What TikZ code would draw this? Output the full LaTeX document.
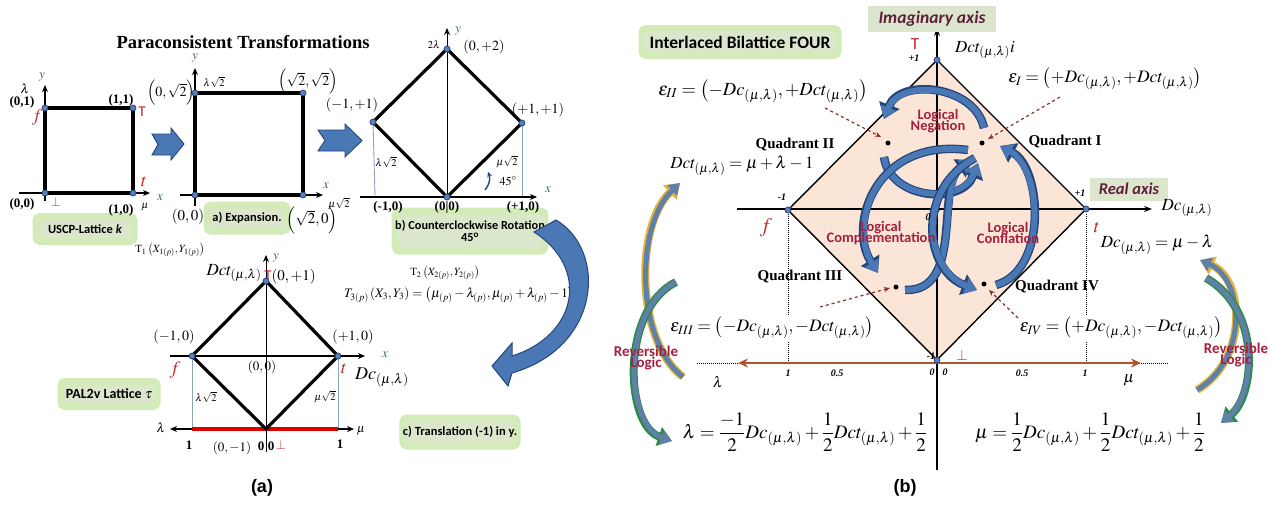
\documentclass[tikz,border=0pt]{standalone}
\usepackage{mathptmx}
\usepackage[no-math]{fontspec}
\setmainfont{Liberation Serif}
\newfontfamily\sansb{Carlito}
\newfontfamily\dvs{Liberation Sans}
\usetikzlibrary{arrows.meta}
\newcommand\fsz[1]{\fontsize{#1}{#1}\selectfont}
\definecolor{boxfill}{HTML}{DCE6CC}
\definecolor{glowc}{HTML}{D3EBB8}
\definecolor{redl}{HTML}{C0282D}
\definecolor{axgreen}{HTML}{2E6B4F}
\definecolor{bluef}{HTML}{4A78B5}
\definecolor{blued}{HTML}{24467A}
\definecolor{vblue}{HTML}{5B7FBF}
\definecolor{peach}{HTML}{FBE5D6}
\definecolor{brownax}{HTML}{B0522A}
\definecolor{maroon}{HTML}{A3203F}
\definecolor{axtxt}{HTML}{5E1F3C}
\definecolor{dashred}{HTML}{8B2E2E}
\definecolor{yel}{HTML}{E2B43A}
\definecolor{grn}{HTML}{2E8B47}
\definecolor{grayblue}{HTML}{5F80A8}
\definecolor{thinc}{HTML}{8FA3BF}
\tikzset{
 edge/.style={line width=3.2pt, line join=miter},
 axis/.style={line width=1.3pt, -{Stealth[length=7pt,width=6pt]}},
 vtx/.style={circle, fill=vblue, draw=blued, line width=0.8pt, inner sep=0pt, minimum size=6pt},
 glowbox/.style={draw=glowc, line width=7pt, fill=boxfill, rounded corners=4pt, inner sep=0pt, font=\sansb\bfseries\fsz{12.5}, align=center},
 bl/.style={font=\bfseries\fsz{13}},
 ml/.style={font=\fsz{14}},
 sm/.style={font=\fsz{10.5}},
 rd/.style={text=redl},
 gl/.style={text=axgreen, font=\bfseries\itshape\fsz{13}},
 eq/.style={font=\fsz{17.5}},
 quad/.style={font=\bfseries\fsz{15}},
 lg/.style={text=maroon, font=\sansb\bfseries\fsz{14.5}, align=center},
 tk/.style={font=\bfseries\itshape\fsz{10}},
 dsh/.style={dashed, dashred, line width=1.2pt, -{Stealth[length=6pt,width=5pt]}},
 arcout/.style={draw=blued, line width=8.5pt, -{Triangle[length=15pt,width=21pt]}},
 arcin/.style={draw=bluef, line width=6pt, -{Triangle[length=12pt,width=16pt]}},
 yout/.style={draw=#1, line width=8pt, -{Triangle[length=14pt,width=19pt]}},
 yin/.style={draw=grayblue, line width=5pt, -{Triangle[length=11pt,width=14pt]}},
 axb/.style={text=axtxt, font=\sansb\bfseries\itshape\fsz{17.5}},
}
\newcommand\barc[1]{\draw[arcout] #1; \draw[arcin] #1;}
\newcommand\rarc[2]{\draw[yout=#1] #2; \draw[yin] #2;}
\begin{document}
\begin{tikzpicture}[x=1pt,y=-1pt]
\useasboundingbox (0,0) rectangle (1271,504);
\fill[white] (0,0) rectangle (1271,504);

%================ PANEL (a) ================
\node[font=\bfseries\fsz{18.5}] (title) at (243,42) {Paraconsistent Transformations};

% label boxes (drawn first, below the labels)
\node[glowbox, minimum width=98pt, minimum height=25pt] (uscp) at (85,229) {USCP-Lattice \textit{k}};
\node[glowbox, minimum width=80pt, minimum height=26pt] (expb) at (247,218) {a) Expansion.};
\node[glowbox, minimum width=148pt, minimum height=40pt, font=\sansb\bfseries\fsz{12.3}] (rotb) at (470,231) {b) Counterclockwise Rotation\\45\textsuperscript{o}};
\node[glowbox, minimum width=96pt, minimum height=25pt, font=\sansb\bfseries\fsz{14}] (pal) at (109,394) {PAL2v Lattice $\tau$};
\node[glowbox, minimum width=114pt, minimum height=28pt] (trb) at (460,432) {c) Translation (-1) in y.};

% ---- step 1: USCP lattice
\coordinate (p1a) at (45,193); \coordinate (p1b) at (133,193);
\coordinate (p1c) at (133,108); \coordinate (p1d) at (45,108);
\coordinate (p1xs) at (19,193); \coordinate (p1xe) at (150,193);
\coordinate (p1ys) at (45,201); \coordinate (p1ye) at (45,85);
\draw[axis] (p1xs) -- (p1xe);
\draw[axis] (p1ys) -- (p1ye);
\draw[edge] (p1a) -- (p1b) -- (p1c) -- (p1d) -- cycle;
\foreach \p in {p1a,p1b,p1c,p1d} \node[vtx] (v\p) at (\p) {};
\node[bl] (l01) at (22,102) {(0,1)};
\node[bl] (l11) at (121,100) {(1,1)};
\node[bl] (l00) at (22,204) {(0,0)};
\node[bl] (l10) at (121,210) {(1,0)};
\node[rd, font=\itshape\fsz{18}] (f1) at (37,117) {$f$};
\node[rd, font=\sansb\fsz{15}] (T1) at (142,112) {T};
\node[rd, font=\itshape\bfseries\fsz{18}] (t1) at (144,182) {$t$};
\node[rd, font=\fsz{13}] (b1) at (56,202) {$\bot$};
\node[sm] (mu1) at (145,207) {$\mu$};
\node[font=\fsz{13}] (la1) at (25,89) {$\lambda$};
\node[gl] (y1) at (42,77) {$y$};
\node[gl] (x1) at (160,198) {$x$};

% arrows between steps
\fill[bluef, draw=blued, line width=0.9pt] (152,134) -- (171,134) -- (171,128) -- (184,144) -- (171,160) -- (171,155) -- (152,155) -- (158,144.5) -- cycle;
\fill[bluef, draw=blued, line width=0.9pt] (318,130) -- (345,130) -- (345,124) -- (362,140.5) -- (345,157) -- (345,151) -- (318,151) -- (325,140.5) -- cycle;

% ---- step 2: expansion
\coordinate (p2a) at (195,195); \coordinate (p2b) at (303,195);
\coordinate (p2c) at (303,93); \coordinate (p2d) at (195,93);
\coordinate (p2xs) at (180,195); \coordinate (p2xe) at (323,195);
\coordinate (p2ys) at (195,206); \coordinate (p2ye) at (195,68);
\draw[axis] (p2xs) -- (p2xe);
\draw[axis] (p2ys) -- (p2ye);
\draw[edge] (p2a) -- (p2b) -- (p2c) -- (p2d) -- cycle;
\foreach \p in {p2a,p2b,p2c,p2d} \node[vtx] (v\p) at (\p) {};
\node[gl] (y2) at (195,58) {$y$};
\node[ml] (l2a) at (171,93) {$\left(0,\sqrt{2}\right)$};
\node[sm] (l2b) at (214,82) {$\lambda\sqrt{2}$};
\node[ml] (l2c) at (308,82) {$\left(\sqrt{2},\sqrt{2}\right)$};
\node[gl] (x2) at (326,186) {$x$};
\node[sm] (l2d) at (339,204) {$\mu\sqrt{2}$};
\node[ml, font=\fsz{15}] (l2e) at (188,217) {$\left(0,0\right)$};
\node[ml, font=\fsz{15}] (l2f) at (312,220) {$\left(\sqrt{2},0\right)$};

% ---- step 3: rotation
\coordinate (p3a) at (447,197); \coordinate (p3b) at (522,123);
\coordinate (p3c) at (447,49); \coordinate (p3d) at (373,122);
\coordinate (p3xs) at (360,197); \coordinate (p3xe) at (537,197);
\coordinate (p3ys) at (447,197); \coordinate (p3ye) at (447,28);
\coordinate (p3l) at (375,196); \coordinate (p3r) at (522,196);
\draw[thinc, line width=0.9pt] (p3d) -- (p3l);
\draw[thinc, line width=0.9pt] (p3b) -- (p3r);
\draw[axis] (p3xs) -- (p3xe);
\draw[axis, line width=1pt] (p3ys) -- (p3ye);
\draw[edge] (p3a) -- (p3b) -- (p3c) -- (p3d) -- cycle;
\foreach \p in {p3a,p3b,p3c,p3d} \node[vtx] (v\p) at (\p) {};
\node[sm] (l3a) at (434,45) {$2\lambda$};
\node[gl] (y3) at (458,31) {$y$};
\node[ml] (l3b) at (484,47) {$\left(0,+2\right)$};
\node[ml] (l3c) at (352,105) {$\left(-1,+1\right)$};
\node[ml] (l3d) at (538,110) {$\left(+1,+1\right)$};
\node[sm] (l3e) at (386,162) {$\lambda\sqrt{2}$};
\node[sm] (l3f) at (507,162) {$\mu\sqrt{2}$};
\node[font=\fsz{12}] (l3g) at (508,181) {$45^{\circ}$};
\coordinate (r45a) at (485,190); \coordinate (r45b) at (488,172);
\draw[blued, line width=1.4pt, -{Stealth[length=5pt,width=5pt]}] (r45a) to[bend right=30] (r45b);
\node[bl] (l3h) at (388,207) {(-1,0)};
\node[bl] (l3i) at (447,207) {(0|0)};
\node[bl] (l3j) at (523,207) {(+1,0)};
\node[gl] (x3) at (548,190) {$x$};

% transforms
\node[font=\fsz{11}] (tr1) at (170,250) {T$_1\left(X_{1(p)},Y_{1(p)}\right)$};
\node[font=\fsz{11}] (tr2) at (445,273) {T$_2\left(X_{2(p)},Y_{2(p)}\right)$};
\node[font=\fsz{13}] (tr3) at (459,295) {$T_{3(p)}\left(X_3,Y_3\right)=\left(\mu_{(p)}-\lambda_{(p)},\mu_{(p)}+\lambda_{(p)}-1\right)$};

% big curved arrow
\fill[bluef, draw=blued, line width=1pt] (534,232) -- (556,220) .. controls (607,250) and (602,347) .. (512,373) -- (508,386) -- (492,366) -- (512,343) -- (512,356) .. controls (578,335) and (590,268) .. (534,232) -- cycle;

% ---- step 4: translation
\coordinate (p4a) at (266,429); \coordinate (p4b) at (338,356);
\coordinate (p4c) at (266,281); \coordinate (p4d) at (192,356);
\coordinate (p4xs) at (170,356); \coordinate (p4xe) at (365,356);
\coordinate (p4ys) at (266,452); \coordinate (p4ye) at (266,255);
\coordinate (p4l) at (192,429); \coordinate (p4r) at (338,429);
\coordinate (p4bl) at (170,429); \coordinate (p4br) at (354,429);
\draw[thinc, line width=0.9pt] (p4d) -- (p4l);
\draw[thinc, line width=0.9pt] (p4b) -- (p4r);
\draw[axis] (p4xs) -- (p4xe);
\draw[axis, line width=1pt] (p4ys) -- (p4ye);
\draw[line width=1.5pt, {Stealth[length=7pt,width=6pt]}-{Stealth[length=7pt,width=6pt]}] (p4bl) -- (p4br);
\draw[red!85!black, line width=4pt] (p4l) -- (p4r);
\draw[edge] (p4a) -- (p4b) -- (p4c) -- (p4d) -- cycle;
\foreach \p in {p4b,p4c,p4d} \node[vtx] (v\p) at (\p) {};
\node[gl] (y4) at (276,258) {$y$};
\node[font=\fsz{17}] (l4a) at (234,273) {$Dct_{(\mu,\lambda)}$};
\node[font=\fsz{15}] (l4b) at (290,277) {{\color{redl}\sansb T}$\left(0,+1\right)$};
\node[ml] (l4c) at (174,337) {$\left(-1,0\right)$};
\node[ml] (l4d) at (353,337) {$\left(+1,0\right)$};
\node[gl] (x4) at (385,355) {$x$};
\node[rd, font=\fsz{19}] (f4) at (175,370) {$f$};
\node[rd, font=\bfseries\fsz{18}] (t4) at (344,369) {$t$};
\node[font=\fsz{13}] (l4e) at (262,367) {$\left(0,0\right)$};
\node[font=\fsz{18}] (l4f) at (382,377) {$Dc_{(\mu,\lambda)}$};
\node[sm] (l4g) at (206,397) {$\lambda\sqrt{2}$};
\node[sm] (l4h) at (325,397) {$\mu\sqrt{2}$};
\node[font=\fsz{13}] (l4i) at (161,428) {$\lambda$};
\node[font=\fsz{12}] (l4j) at (361,431) {$\mu$};
\node[bl] (l4k) at (189,445) {1};
\node[font=\fsz{13}] (l4l) at (232,448) {$\left(0,-1\right)$};
\node[bl] (l4m) at (261,446) {0};
\node[bl] (l4n) at (271,446) {0};
\node[rd, font=\fsz{13}] (l4o) at (281,445) {$\bot$};
\node[bl] (l4p) at (340,444) {1};

%================ PANEL (b) ================
\coordinate (dT) at (937,60); \coordinate (dR) at (1086,209);
\coordinate (dB) at (937,360); \coordinate (dL) at (788,210);
\fill[peach] (dT) -- (dR) -- (dB) -- (dL) -- cycle;
\coordinate (vax0) at (937,470); \coordinate (vax1) at (937,28);
\coordinate (hax0) at (737,209); \coordinate (hax1) at (1152,209);
\draw[line width=1.2pt, -{Stealth[length=8pt,width=6pt]}] (vax0) -- (vax1);
\draw[line width=1.2pt, -{Stealth[length=8pt,width=6pt]}] (hax0) -- (hax1);
\draw[line width=1.4pt] (dT) -- (dR) -- (dB) -- (dL) -- cycle;
% dotted verticals
\coordinate (dl1) at (788,214); \coordinate (dl2) at (788,362);
\coordinate (dr1) at (1086,214); \coordinate (dr2) at (1086,362);
\draw[densely dotted, line width=1pt] (dl1) -- (dl2);
\draw[densely dotted, line width=1pt] (dr1) -- (dr2);
% brown axis
\coordinate (bx0) at (738,363); \coordinate (bx1) at (1141,363);
\coordinate (bd0) at (697,363); \coordinate (bd1) at (1168,363);
\draw[densely dotted, line width=1pt] (bd0) -- (bx0);
\draw[densely dotted, line width=1pt] (bx1) -- (bd1);
\draw[brownax, line width=2.6pt, {Stealth[length=10pt,width=9pt]}-{Stealth[length=10pt,width=9pt]}] (bx0) -- (bx1);
\foreach \p in {dT,dR,dB,dL} \node[vtx] (v\p) at (\p) {};

% points
\coordinate (qI) at (982,143); \coordinate (qII) at (888,143);
\coordinate (qIII) at (896,287); \coordinate (qIV) at (984,284);
\foreach \p in {qI,qII,qIII,qIV} \node[circle, fill=black, inner sep=0pt, minimum size=5pt] (d\p) at (\p) {};
\node[circle, fill=black, inner sep=0pt, minimum size=5pt] (d0) at (937,210) {};

% blue logical arcs
\barc{(984,128) .. controls (975,85) and (900,78) .. (884,119)}
\barc{(884,157) .. controls (890,200) and (962,205) .. (978,163)}
\barc{(968,150) .. controls (875,138) and (848,225) .. (878,273)}
\barc{(905,290) .. controls (965,292) and (935,185) .. (972,160)}
\barc{(996,285) .. controls (1048,270) and (1042,168) .. (1000,146)}
\barc{(975,158) .. controls (915,190) and (925,270) .. (977,290)}

\node[lg] (neg) at (938,121) {Logical\\[-3pt]Negation};
\node[lg] (comp) at (881,233) {Logical\\[-3pt]Complementation};
\node[lg] (conf) at (1008,233) {Logical\\[-3pt]Conflation};

% axis labels
\node[rd, font=\sansb\fsz{17}] (Tb) at (915,44) {T};
\node[tk] (p1t) at (914,58) {+1};
\node[font=\fsz{17}] (dcti) at (985,50) {$Dct_{(\mu,\lambda)}i$};
\node[tk] (m1l) at (782,197) {-1};
\node[tk] (p1r) at (1080,193) {+1};
\node[tk] (zc) at (928,217) {0};
\node[tk] (m1b) at (931,356) {-1};
\node[rd, font=\fsz{15}] (botb) at (962,355) {$\bot$};
\node[rd, font=\itshape\bfseries\fsz{21}] (fb) at (766,228) {$f$};
\node[rd, font=\itshape\bfseries\fsz{19}] (tb) at (1097,227) {$t$};
\node[fill=boxfill, minimum width=128pt, minimum height=26pt, inner sep=0pt, axb] (imag) at (932,19) {Imaginary axis};
\node[fill=boxfill, minimum width=78pt, minimum height=23pt, inner sep=0pt, axb, font=\sansb\bfseries\itshape\fsz{16.5}] (real) at (1129,189) {Real axis};
\node[font=\fsz{17}] (dcax) at (1187,208) {$Dc_{(\mu,\lambda)}$};
\node[glowbox, minimum width=196pt, minimum height=27pt, font=\sansb\bfseries\fsz{17.5}] (ibf) at (740,42) {Interlaced Bilattice FOUR};

% equations
\node[eq, font=\fsz{18.5}] (e2) at (763,91) {$\varepsilon_{II}=\left(-Dc_{(\mu,\lambda)},+Dct_{(\mu,\lambda)}\right)$};
\node[eq] (e1) at (1105,79) {$\varepsilon_{I}=\left(+Dc_{(\mu,\lambda)},+Dct_{(\mu,\lambda)}\right)$};
\node[eq, fill=white, inner sep=2pt] (e3) at (772,328) {$\varepsilon_{III}=\left(-Dc_{(\mu,\lambda)},-Dct_{(\mu,\lambda)}\right)$};
\node[eq, fill=white, inner sep=2pt] (e4) at (1121,328) {$\varepsilon_{IV}=\left(+Dc_{(\mu,\lambda)},-Dct_{(\mu,\lambda)}\right)$};
\node[eq, font=\fsz{17}] (edct) at (742,166) {$Dct_{(\mu,\lambda)}=\mu+\lambda-1$};
\node[eq, font=\fsz{17}] (edc) at (1157,245) {$Dc_{(\mu,\lambda)}=\mu-\lambda$};
\node[quad] (q2) at (795,145) {Quadrant II};
\node[quad] (q1) at (1065,142) {Quadrant I};
\node[quad] (q3) at (800,277) {Quadrant III};
\node[quad] (q4) at (1057,287) {Quadrant IV};

% dashed pointers
\coordinate (s2) at (825,108); \coordinate (s1) at (1060,97);
\coordinate (s3) at (820,307); \coordinate (s4) at (1018,318);
\draw[dsh] (s2) -- (881,137);
\draw[dsh] (s1) -- (988,139);
\draw[dsh] (s3) -- (890,288);
\draw[dsh] (s4) -- (989,290);

% brown axis ticks
\node[font=\fsz{15}] (lab) at (718,382) {$\lambda$};
\node[tk] (t1l) at (788,373) {1};
\node[tk] (t5l) at (837,373) {0.5};
\node[tk] (t0a) at (932,372) {0};
\node[tk] (t0b) at (945,372) {0};
\node[tk] (t5r) at (1022,373) {0.5};
\node[tk] (t1r) at (1085,373) {1};
\node[font=\fsz{16}] (mub) at (1129,380) {$\mu$};

% reversible logic arcs
\rarc{yel}{(683,377) .. controls (635,340) and (635,225) .. (680,183)}
\rarc{grn}{(676,282) .. controls (620,310) and (625,425) .. (672,441)}
\rarc{yel}{(1197,390) .. controls (1248,360) and (1245,280) .. (1200,260)}
\rarc{grn}{(1206,278) .. controls (1262,310) and (1255,395) .. (1221,423)}
\node[lg, font=\sansb\bfseries\fsz{15}] (rl1) at (646,358) {Reversible\\[-4pt]Logic};
\node[lg, font=\sansb\bfseries\fsz{15}] (rl2) at (1236,355) {Reversible\\[-4pt]Logic};

% bottom equations
\node[font=\fsz{19}] (elam) at (805,432) {$\displaystyle\lambda=\frac{-1}{2}Dc_{(\mu,\lambda)}+\frac{1}{2}Dct_{(\mu,\lambda)}+\frac{1}{2}$};
\node[font=\fsz{19}] (emu) at (1090,432) {$\displaystyle\mu=\frac{1}{2}Dc_{(\mu,\lambda)}+\frac{1}{2}Dct_{(\mu,\lambda)}+\frac{1}{2}$};

% captions
\node[font=\dvs\bfseries\fsz{18}] (capa) at (262,488) {(a)};
\node[font=\dvs\bfseries\fsz{18}] (capb) at (905,488) {(b)};
\end{tikzpicture}
\end{document}
